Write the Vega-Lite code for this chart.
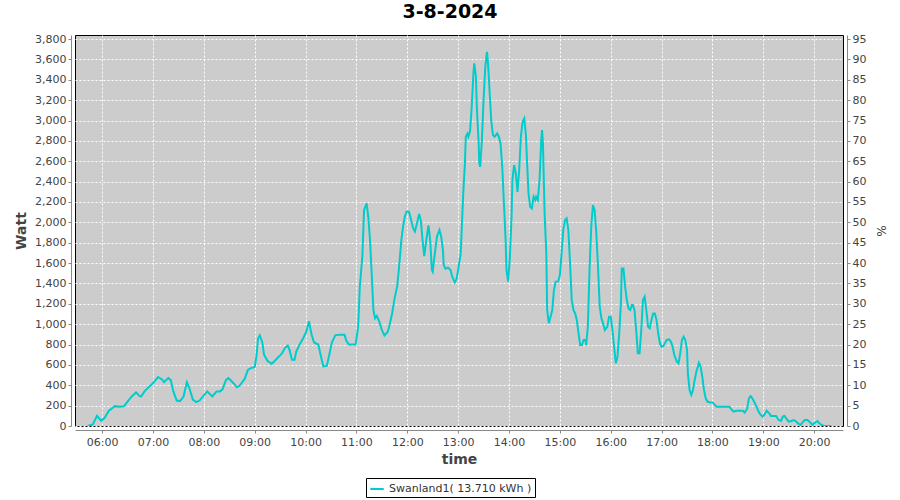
{
  "$schema": "https://vega.github.io/schema/vega-lite/v6.json",
  "width": 768,
  "height": 391,
  "autosize": {"type": "none"},
  "padding": {"left": 75, "top": 35, "right": 57, "bottom": 74},
  "background": "white",
  "title": {"text": "3-8-2024", "fontSize": 19, "fontWeight": "bold", "font": "DejaVu Sans", "color": "#000000", "anchor": "middle", "dx": -9, "offset": 11},
  "config": {
    "view": {"stroke": "#000000", "strokeWidth": 1, "fill": "#cccccc"},
    "axis": {"labelFont": "DejaVu Sans", "labelFontSize": 11, "labelColor": "#444444", "titleFont": "DejaVu Sans", "titleColor": "#444444", "domainColor": "#888888", "tickColor": "#888888", "tickSize": 3, "gridColor": "#ffffff", "gridDash": [2, 2], "gridWidth": 1, "gridOpacity": 1}
  },
  "datasets": {
    "power": [
      {"t":"2024-08-03T05:43","w":0},{"t":"2024-08-03T05:49","w":15},{"t":"2024-08-03T05:54","w":100},{"t":"2024-08-03T05:59","w":50},
      {"t":"2024-08-03T06:03","w":80},{"t":"2024-08-03T06:08","w":150},{"t":"2024-08-03T06:15","w":195},{"t":"2024-08-03T06:21","w":190},
      {"t":"2024-08-03T06:26","w":195},{"t":"2024-08-03T06:29","w":230},{"t":"2024-08-03T06:35","w":290},{"t":"2024-08-03T06:40","w":330},
      {"t":"2024-08-03T06:44","w":295},{"t":"2024-08-03T06:46","w":290},{"t":"2024-08-03T06:50","w":340},{"t":"2024-08-03T06:56","w":390},
      {"t":"2024-08-03T07:00","w":420},{"t":"2024-08-03T07:06","w":480},{"t":"2024-08-03T07:11","w":455},{"t":"2024-08-03T07:13","w":430},
      {"t":"2024-08-03T07:18","w":470},{"t":"2024-08-03T07:21","w":450},{"t":"2024-08-03T07:24","w":340},{"t":"2024-08-03T07:28","w":250},
      {"t":"2024-08-03T07:32","w":245},{"t":"2024-08-03T07:36","w":290},{"t":"2024-08-03T07:40","w":430},{"t":"2024-08-03T07:43","w":370},
      {"t":"2024-08-03T07:47","w":260},{"t":"2024-08-03T07:51","w":235},{"t":"2024-08-03T07:55","w":250},{"t":"2024-08-03T08:00","w":300},
      {"t":"2024-08-03T08:04","w":340},{"t":"2024-08-03T08:10","w":290},{"t":"2024-08-03T08:15","w":340},{"t":"2024-08-03T08:19","w":340},
      {"t":"2024-08-03T08:22","w":360},{"t":"2024-08-03T08:26","w":450},{"t":"2024-08-03T08:29","w":470},{"t":"2024-08-03T08:35","w":420},
      {"t":"2024-08-03T08:39","w":380},{"t":"2024-08-03T08:42","w":395},{"t":"2024-08-03T08:48","w":460},{"t":"2024-08-03T08:52","w":550},
      {"t":"2024-08-03T08:56","w":570},{"t":"2024-08-03T09:00","w":580},{"t":"2024-08-03T09:02","w":680},{"t":"2024-08-03T09:04","w":860},
      {"t":"2024-08-03T09:06","w":890},{"t":"2024-08-03T09:09","w":820},{"t":"2024-08-03T09:11","w":700},{"t":"2024-08-03T09:15","w":640},
      {"t":"2024-08-03T09:20","w":610},{"t":"2024-08-03T09:26","w":660},{"t":"2024-08-03T09:32","w":710},{"t":"2024-08-03T09:36","w":770},
      {"t":"2024-08-03T09:39","w":790},{"t":"2024-08-03T09:41","w":750},{"t":"2024-08-03T09:44","w":650},{"t":"2024-08-03T09:47","w":650},
      {"t":"2024-08-03T09:49","w":730},{"t":"2024-08-03T09:53","w":800},{"t":"2024-08-03T09:57","w":860},{"t":"2024-08-03T10:01","w":930},
      {"t":"2024-08-03T10:04","w":1030},{"t":"2024-08-03T10:07","w":900},{"t":"2024-08-03T10:10","w":820},{"t":"2024-08-03T10:15","w":800},
      {"t":"2024-08-03T10:18","w":690},{"t":"2024-08-03T10:21","w":585},{"t":"2024-08-03T10:25","w":590},{"t":"2024-08-03T10:28","w":700},
      {"t":"2024-08-03T10:31","w":820},{"t":"2024-08-03T10:35","w":890},{"t":"2024-08-03T10:40","w":895},{"t":"2024-08-03T10:46","w":895},
      {"t":"2024-08-03T10:48","w":840},{"t":"2024-08-03T10:51","w":800},{"t":"2024-08-03T10:55","w":800},{"t":"2024-08-03T10:59","w":800},
      {"t":"2024-08-03T11:02","w":970},{"t":"2024-08-03T11:04","w":1370},{"t":"2024-08-03T11:07","w":1670},{"t":"2024-08-03T11:09","w":2120},
      {"t":"2024-08-03T11:12","w":2187},{"t":"2024-08-03T11:14","w":2055},{"t":"2024-08-03T11:16","w":1830},{"t":"2024-08-03T11:18","w":1500},
      {"t":"2024-08-03T11:20","w":1140},{"t":"2024-08-03T11:22","w":1057},{"t":"2024-08-03T11:24","w":1080},{"t":"2024-08-03T11:27","w":1025},
      {"t":"2024-08-03T11:30","w":943},{"t":"2024-08-03T11:33","w":890},{"t":"2024-08-03T11:37","w":925},{"t":"2024-08-03T11:39","w":990},
      {"t":"2024-08-03T11:42","w":1100},{"t":"2024-08-03T11:45","w":1254},{"t":"2024-08-03T11:48","w":1368},{"t":"2024-08-03T11:50","w":1532},
      {"t":"2024-08-03T11:53","w":1826},{"t":"2024-08-03T11:55","w":1957},{"t":"2024-08-03T11:57","w":2055},{"t":"2024-08-03T11:59","w":2104},
      {"t":"2024-08-03T12:02","w":2104},{"t":"2024-08-03T12:04","w":2040},{"t":"2024-08-03T12:07","w":1940},{"t":"2024-08-03T12:09","w":1910},
      {"t":"2024-08-03T12:12","w":2010},{"t":"2024-08-03T12:14","w":2082},{"t":"2024-08-03T12:16","w":2020},{"t":"2024-08-03T12:18","w":1826},
      {"t":"2024-08-03T12:20","w":1669},{"t":"2024-08-03T12:23","w":1860},{"t":"2024-08-03T12:25","w":1970},{"t":"2024-08-03T12:27","w":1826},
      {"t":"2024-08-03T12:29","w":1532},{"t":"2024-08-03T12:30","w":1515},{"t":"2024-08-03T12:32","w":1660},{"t":"2024-08-03T12:35","w":1860},
      {"t":"2024-08-03T12:38","w":1925},{"t":"2024-08-03T12:40","w":1860},{"t":"2024-08-03T12:42","w":1730},{"t":"2024-08-03T12:43","w":1580},
      {"t":"2024-08-03T12:45","w":1545},{"t":"2024-08-03T12:48","w":1555},{"t":"2024-08-03T12:51","w":1532},{"t":"2024-08-03T12:53","w":1466},
      {"t":"2024-08-03T12:56","w":1411},{"t":"2024-08-03T12:58","w":1440},{"t":"2024-08-03T13:00","w":1532},{"t":"2024-08-03T13:03","w":1695},
      {"t":"2024-08-03T13:04","w":1890},{"t":"2024-08-03T13:06","w":2285},{"t":"2024-08-03T13:08","w":2580},{"t":"2024-08-03T13:09","w":2841},
      {"t":"2024-08-03T13:11","w":2873},{"t":"2024-08-03T13:12","w":2841},{"t":"2024-08-03T13:14","w":2890},{"t":"2024-08-03T13:16","w":3135},
      {"t":"2024-08-03T13:18","w":3463},{"t":"2024-08-03T13:19","w":3561},{"t":"2024-08-03T13:21","w":3430},{"t":"2024-08-03T13:22","w":3135},
      {"t":"2024-08-03T13:24","w":2808},{"t":"2024-08-03T13:25","w":2580},{"t":"2024-08-03T13:26","w":2546},{"t":"2024-08-03T13:28","w":2808},
      {"t":"2024-08-03T13:30","w":3201},{"t":"2024-08-03T13:32","w":3528},{"t":"2024-08-03T13:34","w":3675},{"t":"2024-08-03T13:35","w":3594},
      {"t":"2024-08-03T13:37","w":3300},{"t":"2024-08-03T13:39","w":3005},{"t":"2024-08-03T13:41","w":2857},{"t":"2024-08-03T13:43","w":2841},
      {"t":"2024-08-03T13:46","w":2873},{"t":"2024-08-03T13:48","w":2841},{"t":"2024-08-03T13:50","w":2775},{"t":"2024-08-03T13:52","w":2546},
      {"t":"2024-08-03T13:54","w":2187},{"t":"2024-08-03T13:56","w":1826},{"t":"2024-08-03T13:57","w":1532},{"t":"2024-08-03T13:59","w":1417},
      {"t":"2024-08-03T14:01","w":1660},{"t":"2024-08-03T14:03","w":2055},{"t":"2024-08-03T14:04","w":2415},{"t":"2024-08-03T14:06","w":2563},
      {"t":"2024-08-03T14:08","w":2481},{"t":"2024-08-03T14:10","w":2300},{"t":"2024-08-03T14:12","w":2514},{"t":"2024-08-03T14:14","w":2841},
      {"t":"2024-08-03T14:16","w":2988},{"t":"2024-08-03T14:18","w":3021},{"t":"2024-08-03T14:20","w":2850},{"t":"2024-08-03T14:21","w":2644},
      {"t":"2024-08-03T14:23","w":2285},{"t":"2024-08-03T14:25","w":2153},{"t":"2024-08-03T14:27","w":2137},{"t":"2024-08-03T14:29","w":2252},
      {"t":"2024-08-03T14:31","w":2220},{"t":"2024-08-03T14:32","w":2252},{"t":"2024-08-03T14:34","w":2220},{"t":"2024-08-03T14:36","w":2415},
      {"t":"2024-08-03T14:38","w":2808},{"t":"2024-08-03T14:39","w":2907},{"t":"2024-08-03T14:40","w":2776},{"t":"2024-08-03T14:42","w":2088},
      {"t":"2024-08-03T14:44","w":1696},{"t":"2024-08-03T14:45","w":1139},{"t":"2024-08-03T14:47","w":1008},{"t":"2024-08-03T14:49","w":1073},
      {"t":"2024-08-03T14:51","w":1139},{"t":"2024-08-03T14:53","w":1335},{"t":"2024-08-03T14:55","w":1418},{"t":"2024-08-03T14:58","w":1420},
      {"t":"2024-08-03T15:00","w":1480},{"t":"2024-08-03T15:02","w":1696},{"t":"2024-08-03T15:04","w":1925},{"t":"2024-08-03T15:06","w":2023},
      {"t":"2024-08-03T15:08","w":2040},{"t":"2024-08-03T15:10","w":1925},{"t":"2024-08-03T15:12","w":1598},{"t":"2024-08-03T15:14","w":1237},
      {"t":"2024-08-03T15:16","w":1139},{"t":"2024-08-03T15:18","w":1106},{"t":"2024-08-03T15:20","w":1040},{"t":"2024-08-03T15:22","w":910},
      {"t":"2024-08-03T15:24","w":795},{"t":"2024-08-03T15:26","w":795},{"t":"2024-08-03T15:28","w":845},{"t":"2024-08-03T15:30","w":845},
      {"t":"2024-08-03T15:31","w":795},{"t":"2024-08-03T15:33","w":975},{"t":"2024-08-03T15:35","w":1532},{"t":"2024-08-03T15:37","w":1957},
      {"t":"2024-08-03T15:39","w":2170},{"t":"2024-08-03T15:41","w":2120},{"t":"2024-08-03T15:43","w":1892},{"t":"2024-08-03T15:45","w":1564},
      {"t":"2024-08-03T15:47","w":1171},{"t":"2024-08-03T15:49","w":1057},{"t":"2024-08-03T15:51","w":1008},{"t":"2024-08-03T15:53","w":943},
      {"t":"2024-08-03T15:56","w":975},{"t":"2024-08-03T15:58","w":1073},{"t":"2024-08-03T16:00","w":1073},{"t":"2024-08-03T16:02","w":943},
      {"t":"2024-08-03T16:04","w":779},{"t":"2024-08-03T16:06","w":616},{"t":"2024-08-03T16:08","w":681},{"t":"2024-08-03T16:10","w":910},
      {"t":"2024-08-03T16:12","w":1204},{"t":"2024-08-03T16:13","w":1548},{"t":"2024-08-03T16:15","w":1548},{"t":"2024-08-03T16:17","w":1368},
      {"t":"2024-08-03T16:19","w":1237},{"t":"2024-08-03T16:21","w":1155},{"t":"2024-08-03T16:23","w":1139},{"t":"2024-08-03T16:25","w":1188},
      {"t":"2024-08-03T16:26","w":1188},{"t":"2024-08-03T16:28","w":1139},{"t":"2024-08-03T16:30","w":943},{"t":"2024-08-03T16:32","w":714},
      {"t":"2024-08-03T16:34","w":714},{"t":"2024-08-03T16:36","w":943},{"t":"2024-08-03T16:38","w":1237},{"t":"2024-08-03T16:40","w":1270},
      {"t":"2024-08-03T16:42","w":1139},{"t":"2024-08-03T16:44","w":975},{"t":"2024-08-03T16:46","w":959},{"t":"2024-08-03T16:48","w":1040},
      {"t":"2024-08-03T16:50","w":1106},{"t":"2024-08-03T16:52","w":1106},{"t":"2024-08-03T16:54","w":1040},{"t":"2024-08-03T16:56","w":910},
      {"t":"2024-08-03T16:58","w":812},{"t":"2024-08-03T17:00","w":779},{"t":"2024-08-03T17:02","w":785},{"t":"2024-08-03T17:04","w":812},
      {"t":"2024-08-03T17:06","w":845},{"t":"2024-08-03T17:09","w":851},{"t":"2024-08-03T17:11","w":828},{"t":"2024-08-03T17:13","w":779},
      {"t":"2024-08-03T17:15","w":697},{"t":"2024-08-03T17:18","w":632},{"t":"2024-08-03T17:20","w":616},{"t":"2024-08-03T17:22","w":714},
      {"t":"2024-08-03T17:24","w":845},{"t":"2024-08-03T17:26","w":877},{"t":"2024-08-03T17:28","w":845},{"t":"2024-08-03T17:30","w":747},
      {"t":"2024-08-03T17:31","w":517},{"t":"2024-08-03T17:33","w":354},{"t":"2024-08-03T17:35","w":305},{"t":"2024-08-03T17:37","w":354},
      {"t":"2024-08-03T17:39","w":452},{"t":"2024-08-03T17:41","w":533},{"t":"2024-08-03T17:44","w":621},{"t":"2024-08-03T17:46","w":583},
      {"t":"2024-08-03T17:48","w":484},{"t":"2024-08-03T17:50","w":354},{"t":"2024-08-03T17:52","w":272},{"t":"2024-08-03T17:54","w":240},
      {"t":"2024-08-03T17:57","w":232},{"t":"2024-08-03T18:00","w":232},{"t":"2024-08-03T18:02","w":213},{"t":"2024-08-03T18:05","w":190},
      {"t":"2024-08-03T18:09","w":190},{"t":"2024-08-03T18:13","w":190},{"t":"2024-08-03T18:17","w":190},{"t":"2024-08-03T18:20","w":190},
      {"t":"2024-08-03T18:23","w":157},{"t":"2024-08-03T18:25","w":141},{"t":"2024-08-03T18:28","w":150},{"t":"2024-08-03T18:32","w":150},
      {"t":"2024-08-03T18:36","w":150},{"t":"2024-08-03T18:38","w":131},{"t":"2024-08-03T18:41","w":170},{"t":"2024-08-03T18:43","w":272},
      {"t":"2024-08-03T18:45","w":294},{"t":"2024-08-03T18:47","w":272},{"t":"2024-08-03T18:49","w":240},{"t":"2024-08-03T18:52","w":190},
      {"t":"2024-08-03T18:54","w":150},{"t":"2024-08-03T18:56","w":118},{"t":"2024-08-03T18:59","w":92},{"t":"2024-08-03T19:01","w":108},
      {"t":"2024-08-03T19:04","w":150},{"t":"2024-08-03T19:07","w":124},{"t":"2024-08-03T19:09","w":98},{"t":"2024-08-03T19:12","w":98},
      {"t":"2024-08-03T19:15","w":98},{"t":"2024-08-03T19:18","w":59},{"t":"2024-08-03T19:21","w":52},{"t":"2024-08-03T19:23","w":92},
      {"t":"2024-08-03T19:25","w":98},{"t":"2024-08-03T19:27","w":75},{"t":"2024-08-03T19:30","w":43},{"t":"2024-08-03T19:33","w":49},
      {"t":"2024-08-03T19:36","w":59},{"t":"2024-08-03T19:38","w":49},{"t":"2024-08-03T19:41","w":26},{"t":"2024-08-03T19:44","w":10},
      {"t":"2024-08-03T19:46","w":33},{"t":"2024-08-03T19:49","w":59},{"t":"2024-08-03T19:52","w":59},{"t":"2024-08-03T19:55","w":36},
      {"t":"2024-08-03T19:58","w":10},{"t":"2024-08-03T20:01","w":33},{"t":"2024-08-03T20:04","w":49},{"t":"2024-08-03T20:06","w":26},
      {"t":"2024-08-03T20:09","w":10},{"t":"2024-08-03T20:11","w":3},{"t":"2024-08-03T20:15","w":0},{"t":"2024-08-03T20:20","w":0}
    ],
    "pctaxis": [{"pct": 0}, {"pct": 95}]
  },
  "layer": [
    {
      "data": {"name": "power"},
      "mark": {"type": "line", "strokeWidth": 2, "interpolate": "linear", "clip": true},
      "encoding": {
        "x": {
          "field": "t", "type": "temporal",
          "scale": {"domain": [{"year": 2024, "month": 8, "date": 3, "hours": 5, "minutes": 28}, {"year": 2024, "month": 8, "date": 3, "hours": 20, "minutes": 34}]},
          "axis": {
            "title": "time", "titleFontSize": 14, "titleFontWeight": "bold", "titlePadding": 5,
            "format": "%H:%M", "offset": 4, "grid": true, "labelFlush": false, "labelPadding": 3,
            "values": [
              {"year": 2024, "month": 8, "date": 3, "hours": 6},
              {"year": 2024, "month": 8, "date": 3, "hours": 7},
              {"year": 2024, "month": 8, "date": 3, "hours": 8},
              {"year": 2024, "month": 8, "date": 3, "hours": 9},
              {"year": 2024, "month": 8, "date": 3, "hours": 10},
              {"year": 2024, "month": 8, "date": 3, "hours": 11},
              {"year": 2024, "month": 8, "date": 3, "hours": 12},
              {"year": 2024, "month": 8, "date": 3, "hours": 13},
              {"year": 2024, "month": 8, "date": 3, "hours": 14},
              {"year": 2024, "month": 8, "date": 3, "hours": 15},
              {"year": 2024, "month": 8, "date": 3, "hours": 16},
              {"year": 2024, "month": 8, "date": 3, "hours": 17},
              {"year": 2024, "month": 8, "date": 3, "hours": 18},
              {"year": 2024, "month": 8, "date": 3, "hours": 19},
              {"year": 2024, "month": 8, "date": 3, "hours": 20}
            ]
          }
        },
        "y": {
          "field": "w", "type": "quantitative",
          "scale": {"domain": [0, 3840], "nice": false, "zero": true},
          "axis": {
            "title": "Watt", "titleFontSize": 14, "titleFontWeight": "bold", "titlePadding": 6,
            "format": ",d", "offset": 4, "grid": true, "labelFlush": false,
            "values": [0,200,400,600,800,1000,1200,1400,1600,1800,2000,2200,2400,2600,2800,3000,3200,3400,3600,3800]
          }
        },
        "color": {
          "datum": "Swanland1( 13.710 kWh )",
          "scale": {"range": ["#00cccc"]},
          "legend": {
            "title": null, "orient": "none", "legendX": 291, "legendY": 443,
            "direction": "horizontal", "symbolType": "stroke", "symbolStrokeWidth": 2, "symbolSize": 180,
            "labelFont": "DejaVu Sans", "labelFontSize": 11, "labelColor": "#333333",
            "strokeColor": "#000000", "padding": 3, "fillColor": "#ffffff"
          }
        }
      }
    },
    {
      "data": {"name": "pctaxis"},
      "mark": {"type": "point", "opacity": 0},
      "encoding": {
        "y": {
          "field": "pct", "type": "quantitative",
          "scale": {"domain": [0, 96], "nice": false, "zero": true},
          "axis": {
            "orient": "right", "title": "%", "titleFontSize": 12, "titleFontWeight": "normal", "titlePadding": 8,
            "offset": 4, "grid": false, "labelFlush": false,
            "values": [0,5,10,15,20,25,30,35,40,45,50,55,60,65,70,75,80,85,90,95]
          }
        }
      }
    }
  ],
  "resolve": {"scale": {"y": "independent"}}
}
